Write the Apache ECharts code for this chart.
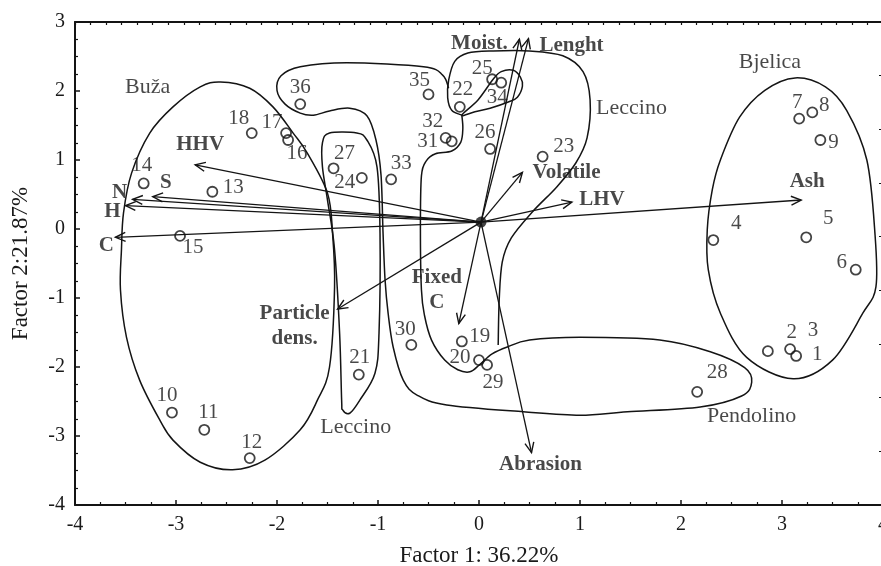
<!DOCTYPE html>
<html><head><meta charset="utf-8">
<script src="https://cdn.jsdelivr.net/npm/echarts@6/dist/echarts.min.js"></script>
<style>html,body{margin:0;padding:0;background:#fff}#c{width:881px;height:566px}</style>
</head><body><div id="c"></div>
<script>
// ---------- data ----------
const pointIds = ['1','2','3','4','5','6','7','8','9','10','11','12','13','14','15','16','17','18','19','20','21','22','23','24','25','26','27','28','29','30','31','32','33','34','35','36'];
const pointX = [3.14, 2.86, 3.08, 2.32, 3.24, 3.73, 3.17, 3.30, 3.38, -3.04, -2.72, -2.27, -2.64, -3.32, -2.96, -1.89, -1.91, -2.25, -0.17, 0.00, -1.19, -0.19, 0.63, -1.16, 0.13, 0.11, -1.44, 2.16, 0.08, -0.67, -0.27, -0.33, -0.87, 0.22, -0.50, -1.77];
const pointY = [-1.84, -1.77, -1.74, -0.16, -0.12, -0.59, 1.60, 1.69, 1.29, -2.66, -2.91, -3.32, 0.54, 0.66, -0.10, 1.29, 1.39, 1.39, -1.63, -1.90, -2.11, 1.77, 1.05, 0.74, 2.17, 1.16, 0.88, -2.36, -1.97, -1.68, 1.27, 1.32, 0.72, 2.12, 1.95, 1.81];

const varNames = ['HHV', 'S', 'N', 'H', 'C', 'Moist.', 'Lenght', 'Volatile', 'LHV', 'Ash', 'Fixed\nC', 'Particle\ndens.', 'Abrasion'];
const varX = [-2.81, -3.23, -3.43, -3.50, -3.60, 0.40, 0.49, 0.43, 0.92, 3.19, -0.20, -1.40, 0.52];
const varY = [0.93, 0.47, 0.43, 0.34, -0.12, 2.75, 2.76, 0.82, 0.39, 0.42, -1.37, -1.16, -3.24];
const originXY = [0.02, 0.10];

const groupNames = ['Buža', 'Bjelica', 'Leccino', 'Leccino', 'Pendolino'];
const groupX = [-3.28, 2.88, 1.51, -1.22, 2.70];
const groupY = [2.06, 2.42, 1.75, -2.87, -2.72];

const xTickLabels = ['-4', '-3', '-2', '-1', '0', '1', '2', '3', '4'];
const yTickLabels = ['-4', '-3', '-2', '-1', '0', '1', '2', '3'];

// hand-drawn group outlines (data units)
const outlineBuza = [[-2.56,2.13],[-2.27,2.04],[-2.04,1.77],[-1.84,1.39],[-1.70,1.10],[-1.50,0.52],[-1.45,-0.06],[-1.43,-0.84],[-1.48,-2.00],[-1.60,-2.48],[-1.77,-2.91],[-2.12,-3.35],[-2.44,-3.49],[-2.76,-3.38],[-3.03,-3.06],[-3.16,-2.77],[-3.36,-2.19],[-3.49,-1.57],[-3.55,-0.88],[-3.54,-0.30],[-3.52,0.23],[-3.44,0.81],[-3.26,1.39],[-3.03,1.77],[-2.76,2.06]];
const outlineBjelica = [[3.13,2.19],[3.43,2.06],[3.64,1.72],[3.84,1.00],[3.92,-0.06],[3.93,-0.84],[3.80,-1.22],[3.50,-1.90],[3.11,-2.17],[2.65,-1.86],[2.39,-1.22],[2.27,-0.59],[2.26,-0.01],[2.31,0.57],[2.39,1.00],[2.58,1.62],[2.83,2.01]];
const outlineLeccinoNarrow = [[-1.55,1.25],[-1.48,1.39],[-1.21,1.39],[-1.11,1.29],[-1.01,0.90],[-0.98,-0.06],[-0.99,-1.51],[-1.03,-2.09],[-1.18,-2.48],[-1.28,-2.67],[-1.35,-2.62],[-1.36,-2.48],[-1.38,-1.51],[-1.43,-0.30],[-1.50,0.42],[-1.55,0.90]];
const outlineTeardrop = [[-0.17,1.65],[-0.01,1.87],[0.14,2.17],[0.22,2.28],[0.34,2.30],[0.41,2.20],[0.43,2.07],[0.38,1.91],[0.29,1.84],[0.11,1.75],[-0.04,1.70]];
const outlineCentral = [[-0.17,1.65],[-0.16,1.46],[-0.18,1.26],[-0.27,1.13],[-0.43,1.09],[-0.52,0.99],[-0.57,0.77],[-0.58,-0.01],[-0.57,-0.88],[-0.54,-1.25],[-0.47,-1.61],[-0.34,-1.90],[-0.21,-2.04],[-0.09,-2.07],[0.01,-1.96],[0.13,-1.81],[0.28,-1.71],[0.50,-1.61],[1.00,-1.57],[1.79,-1.61],[2.29,-1.78],[2.63,-2.01],[2.70,-2.22],[2.60,-2.42],[2.19,-2.58],[1.47,-2.65],[1.00,-2.70],[0.44,-2.65],[-0.32,-2.55],[-0.61,-2.41],[-0.75,-2.19],[-0.85,-1.71],[-0.90,-1.22],[-0.93,-0.74],[-0.95,-0.06],[-0.97,0.78],[-1.02,1.29],[-1.11,1.64],[-1.28,1.75],[-1.48,1.71],[-1.64,1.65],[-1.77,1.68],[-1.92,1.81],[-2.00,2.01],[-1.96,2.22],[-1.77,2.35],[-1.31,2.41],[-0.55,2.35],[-0.36,2.23],[-0.30,2.04]];
const outlineLeccinoUpper = [[0.19,-1.68],[0.20,-1.03],[0.23,-0.48],[0.32,-0.13],[0.53,0.25],[0.77,0.61],[0.96,0.96],[1.07,1.32],[1.10,1.87],[1.03,2.28],[0.83,2.51],[0.50,2.58],[0.14,2.58],[-0.11,2.55],[-0.24,2.43],[-0.30,2.16],[-0.31,1.90],[-0.27,1.72],[-0.17,1.65]];

// ---------- styling (pixel offsets of text labels) ----------
const numLabelOffsets = [[21,-1],[24,-19],[23,-19],[23,-17],[22,-19],[-14,-7],[-2,-16],[12,-7],[13,2],[-5,-17],[4,-17],[2,-16],[21,-4],[-2,-18],[13,12],[9,13],[-14,-11],[-13,-15],[18,-5],[-19,-3],[1,-17],[3,-17],[21,-10],[-17,5],[-10,-11],[-5,-16],[11,-15],[20,-19],[6,18],[-6,-15],[-24,0],[-13,-16],[10,-16],[-4,15],[-9,-14],[0,-17]];
const varLabelOffsets = [[5,-20],[13,-14],[-13,-7],[-13,6],[-9,8],[-40,4],[43,7],[44,0],[30,-3],[6,-18],[-22,-33],[-43,17],[9,12]];

const FONT = 'Liberation Serif';
const INK = '#141414';
const TXT = '#1a1a1a';

const outlines = [
  {pts: outlineBuza, closed: true},
  {pts: outlineBjelica, closed: true},
  {pts: outlineLeccinoNarrow, closed: true},
  {pts: outlineTeardrop, closed: true},
  {pts: outlineCentral, closed: false},
  {pts: outlineLeccinoUpper, closed: false}
];

// Catmull-Rom spline through pixel points -> SVG path data
function splinePath(p, closed) {
  const n = p.length;
  const at = (i) => closed ? p[(i + n) % n] : p[Math.max(0, Math.min(n - 1, i))];
  const f = (v) => v.toFixed(2);
  let d = 'M' + f(p[0][0]) + ' ' + f(p[0][1]);
  const segs = closed ? n : n - 1;
  for (let i = 0; i < segs; i++) {
    const p0 = at(i - 1), p1 = at(i), p2 = at(i + 1), p3 = at(i + 2);
    const c1 = [p1[0] + (p2[0] - p0[0]) / 6, p1[1] + (p2[1] - p0[1]) / 6];
    const c2 = [p2[0] - (p3[0] - p1[0]) / 6, p2[1] - (p3[1] - p1[1]) / 6];
    d += 'C' + f(c1[0]) + ' ' + f(c1[1]) + ' ' + f(c2[0]) + ' ' + f(c2[1]) + ' ' + f(p2[0]) + ' ' + f(p2[1]);
  }
  if (closed) d += 'Z';
  return d;
}

const chart = echarts.init(document.getElementById('c'), null, {renderer: 'canvas'});

const axisTextStyle = {fontFamily: FONT, fontSize: 20, color: TXT};

chart.setOption({
  animation: false,
  backgroundColor: '#fff',
  grid: {left: 75, top: 22, width: 808, height: 483, containLabel: false, outerBoundsMode: 'none'},
  xAxis: [
    {
      type: 'value', position: 'bottom', min: -4, max: 4, interval: 1,
      axisLine: {show: true, onZero: false, lineStyle: {color: INK, width: 2}},
      axisTick: {show: true, inside: true, length: 5, lineStyle: {color: INK, width: 1.5}},
      minorTick: {show: true, splitNumber: 4, length: 3, lineStyle: {color: INK, width: 1.2}},
      splitLine: {show: false},
      axisLabel: Object.assign({margin: 10, formatter: (v) => xTickLabels[Math.round(v + 4)]}, axisTextStyle),
      name: 'Factor 1: 36.22%', nameLocation: 'middle', nameGap: 39,
      nameTextStyle: {fontFamily: FONT, fontSize: 23, color: TXT}
    },
    {
      type: 'value', position: 'top', min: 0, max: 52, interval: 1,
      axisLine: {show: true, onZero: false, lineStyle: {color: INK, width: 2}},
      axisTick: {show: true, inside: true, length: 3, lineStyle: {color: INK, width: 1.2}},
      axisLabel: {show: false}, splitLine: {show: false}
    }
  ],
  yAxis: [
    {
      type: 'value', position: 'left', min: -4, max: 3, interval: 1,
      axisLine: {show: true, onZero: false, lineStyle: {color: INK, width: 2}},
      axisTick: {show: true, inside: true, length: 5, lineStyle: {color: INK, width: 1.5}},
      minorTick: {show: true, splitNumber: 4, length: 3, lineStyle: {color: INK, width: 1.2}},
      splitLine: {show: false},
      axisLabel: Object.assign({margin: 10, formatter: (v) => yTickLabels[Math.round(v + 4)]}, axisTextStyle),
      name: 'Factor 2:21.87%', nameLocation: 'middle', nameGap: 43, nameRotate: 90,
      nameTextStyle: {fontFamily: FONT, fontSize: 23, color: TXT}
    },
    {
      type: 'value', position: 'right', min: 0, max: 9, interval: 1,
      axisLine: {show: true, onZero: false, lineStyle: {color: INK, width: 2}},
      axisTick: {show: true, inside: true, length: 4, lineStyle: {color: INK, width: 1.2}},
      axisLabel: {show: false}, splitLine: {show: false}
    }
  ],
  series: [
    {
      type: 'custom', xAxisIndex: 0, yAxisIndex: 0, silent: true, clip: false, z: 2,
      data: outlines.map(o => o.pts[0]),
      renderItem: function (params, api) {
        const o = outlines[params.dataIndex];
        const pts = o.pts.map(p => api.coord(p));
        return {
          type: 'path',
          shape: {pathData: splinePath(pts, o.closed)},
          style: {fill: 'none', stroke: INK, lineWidth: 1.5}
        };
      }
    },
    {
      type: 'custom', xAxisIndex: 0, yAxisIndex: 0, silent: true, clip: false, z: 3,
      data: varX.map((x, i) => [x, varY[i]]),
      renderItem: function (params, api) {
        const s = api.coord(originXY);
        const e = api.coord([api.value(0), api.value(1)]);
        const a = Math.atan2(e[1] - s[1], e[0] - s[0]);
        const L = 11, w = 0.42;
        const h1 = [e[0] - L * Math.cos(a - w), e[1] - L * Math.sin(a - w)];
        const h2 = [e[0] - L * Math.cos(a + w), e[1] - L * Math.sin(a + w)];
        return {
          type: 'group',
          children: [
            {type: 'line', shape: {x1: s[0], y1: s[1], x2: e[0], y2: e[1]}, style: {stroke: INK, lineWidth: 1.3}},
            {type: 'polyline', shape: {points: [h1, e, h2]}, style: {stroke: INK, lineWidth: 1.4, fill: null}}
          ]
        };
      }
    },
    {
      type: 'scatter', xAxisIndex: 0, yAxisIndex: 0, silent: true, z: 5,
      symbol: 'circle', symbolSize: 10,
      itemStyle: {color: 'rgba(0,0,0,0)', borderColor: INK, borderWidth: 1.8},
      data: pointX.map((x, i) => ({
        value: [x, pointY[i]], name: pointIds[i],
        label: {offset: numLabelOffsets[i]}
      })),
      label: {
        show: true, position: 'inside', formatter: '{b}',
        fontFamily: FONT, fontSize: 21, color: TXT, align: 'center', verticalAlign: 'middle'
      }
    },
    {
      type: 'scatter', xAxisIndex: 0, yAxisIndex: 0, silent: true, z: 6,
      symbol: 'circle', symbolSize: 11, itemStyle: {color: INK},
      data: [originXY]
    },
    {
      type: 'scatter', xAxisIndex: 0, yAxisIndex: 0, silent: true, z: 6,
      symbolSize: 0,
      data: varX.map((x, i) => ({value: [x, varY[i]], name: varNames[i], label: {offset: varLabelOffsets[i]}})),
      label: {
        show: true, position: 'inside', formatter: '{b}',
        fontFamily: FONT, fontWeight: 'bold', fontSize: 21, lineHeight: 25, color: TXT, align: 'center', verticalAlign: 'middle'
      }
    },
    {
      type: 'scatter', xAxisIndex: 0, yAxisIndex: 0, silent: true, z: 6,
      symbolSize: 0,
      data: groupX.map((x, i) => ({value: [x, groupY[i]], name: groupNames[i]})),
      label: {
        show: true, position: 'inside', formatter: '{b}',
        fontFamily: FONT, fontSize: 22, color: TXT, align: 'center', verticalAlign: 'middle'
      }
    }
  ]
});
</script>
</body></html>
